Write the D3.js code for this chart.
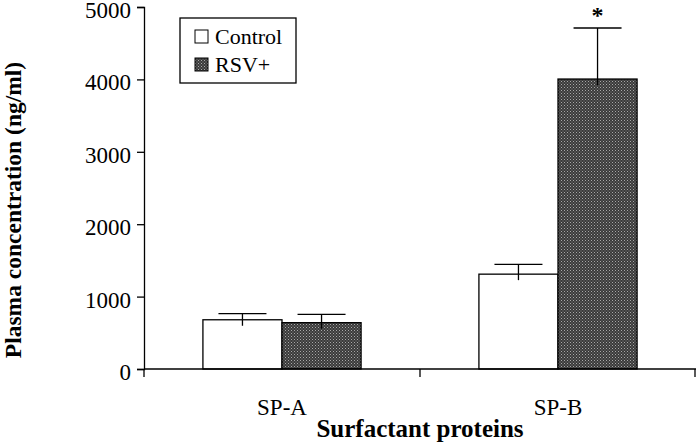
<!DOCTYPE html>
<html>
<head>
<meta charset="utf-8">
<script src="https://cdn.jsdelivr.net/npm/d3@7"></script>
<style>
body{margin:0;background:#fff;}
svg{display:block;}
text{font-family:"Liberation Serif","Times New Roman",serif;fill:#000;}
</style>
</head>
<body>
<svg id="chart" width="697" height="446"></svg>
<script>
const categories = ["SP-A", "SP-B"];
const seriesNames = ["Control", "RSV+"];
const controlValues = [680, 1310];
const controlErrors = [85, 135];
const rsvValues = [640, 4005];
const rsvErrors = [115, 705];
const yTicks = [0, 1000, 2000, 3000, 4000, 5000];
const significant = [false, true];

const svg = d3.select("#chart");
const x0 = 144, x1 = 696, yBottom = 369, yTop = 7;

const defs = svg.append("defs");
const pat = defs.append("pattern").attr("id","checker").attr("patternUnits","userSpaceOnUse")
  .attr("width",3).attr("height",3);
pat.append("rect").attr("width",3).attr("height",3).attr("fill","#3a3a3a");
pat.append("rect").attr("x",0).attr("y",0).attr("width",1).attr("height",1).attr("fill","#a8a8a8");
pat.append("rect").attr("x",1.5).attr("y",1.5).attr("width",1).attr("height",1).attr("fill","#8a8a8a");

const y = d3.scaleLinear().domain([0,5000]).range([yBottom, yTop]);
const x = d3.scaleBand().domain(categories).range([x0, x1]).padding(0);
const xi = d3.scaleBand().domain(seriesNames).range([0, x.bandwidth()]).paddingOuter(0.745).paddingInner(0);

const data = categories.map((c,i)=>({cat:c, vals:[
  {s:"Control", v:controlValues[i], e:controlErrors[i]},
  {s:"RSV+", v:rsvValues[i], e:rsvErrors[i]}]}));

// y axis
const yAxis = d3.axisLeft(y).tickValues(yTicks).tickSize(7).tickPadding(6).tickFormat(d3.format("d"));
const gy = svg.append("g").attr("transform",`translate(${x0},0)`).call(yAxis);
gy.select(".domain").attr("stroke","#000").attr("stroke-width",1.3);
gy.selectAll(".tick line").attr("stroke","#000").attr("stroke-width",1.3);
gy.selectAll(".tick text").style("font-family",'"Liberation Serif",serif').style("font-size","23px")
  .attr("fill","#000").attr("dy","0.46em");

// error bars (drawn first so bar fill covers the lower whisker)
const capW = 48, stub = 6;
const groups = svg.append("g").selectAll("g").data(data).join("g")
  .attr("transform", d=>`translate(${x(d.cat)},0)`);
groups.selectAll("g.err").data(d=>d.vals).join("g").attr("class","err").each(function(d){
  const g = d3.select(this);
  const cx = xi(d.s) + xi.bandwidth()/2;
  g.append("line").attr("x1",cx).attr("x2",cx).attr("y1",y(d.v+d.e)).attr("y2",y(d.v))
    .attr("stroke","#000").attr("stroke-width",1.3);
  g.append("line").attr("x1",cx-capW/2).attr("x2",cx+capW/2).attr("y1",y(d.v+d.e)).attr("y2",y(d.v+d.e))
    .attr("stroke","#000").attr("stroke-width",1.3);
});
// bars
groups.selectAll("rect").data(d=>d.vals).join("rect")
  .attr("x", d=>xi(d.s)).attr("width", xi.bandwidth())
  .attr("y", d=>y(d.v)).attr("height", d=>y(0)-y(d.v))
  .attr("fill", d=>d.s==="Control" ? "#fff" : "url(#checker)")
  .attr("stroke","#000").attr("stroke-width",1.3);
// short lower whisker stub inside bars
groups.selectAll("line.stub").data(d=>d.vals).join("line").attr("class","stub")
  .attr("x1",d=>xi(d.s)+xi.bandwidth()/2).attr("x2",d=>xi(d.s)+xi.bandwidth()/2)
  .attr("y1",d=>y(d.v)).attr("y2",d=>Math.min(y(d.v)+stub, y(d.v-d.e)))
  .attr("stroke","#000").attr("stroke-width",1.3);

// significance asterisk
groups.each(function(d,i){
  if(!significant[i]) return;
  const r = d.vals[1];
  const cx = xi(r.s) + xi.bandwidth()/2;
  d3.select(this).append("text").attr("x",cx).attr("y",y(r.v+r.e)-5)
    .attr("text-anchor","middle").style("font-size","24px").style("font-weight","bold").text("*");
});

// x axis
svg.append("line").attr("x1",x0).attr("x2",x1).attr("y1",yBottom).attr("y2",yBottom)
  .attr("stroke","#000").attr("stroke-width",1.3);
const boundaries = categories.map(c=>x(c)).concat([x(categories[categories.length-1])+x.bandwidth()]);
svg.append("g").selectAll("line").data(boundaries).join("line")
  .attr("x1",d=>Math.min(d,x1-1)).attr("x2",d=>Math.min(d,x1-1)).attr("y1",yBottom).attr("y2",yBottom+8)
  .attr("stroke","#000").attr("stroke-width",1.3);
svg.append("g").selectAll("text").data(categories).join("text")
  .attr("x",d=>x(d)+x.bandwidth()/2).attr("y",415).attr("text-anchor","middle")
  .style("font-size","23px").text(d=>d);

// axis titles
svg.append("text").attr("x",420).attr("y",437).attr("text-anchor","middle")
  .style("font-size","25px").style("font-weight","bold").text("Surfactant proteins");
svg.append("text").attr("transform","translate(21,210) rotate(-90)").attr("text-anchor","middle")
  .style("font-size","23.5px").style("font-weight","bold").text("Plasma concentration (ng/ml)");

// legend
const lg = svg.append("g");
lg.append("rect").attr("x",180).attr("y",18).attr("width",116).attr("height",65)
  .attr("fill","#fff").attr("stroke","#000").attr("stroke-width",1.3);
const legendItems = seriesNames.map((s,i)=>({s, fill: i===0 ? "#fff" : "url(#checker)"}));
lg.selectAll("rect.sw").data(legendItems).join("rect").attr("class","sw")
  .attr("x",195).attr("y",(d,i)=>30+i*28).attr("width",13).attr("height",13)
  .attr("fill",d=>d.fill).attr("stroke","#000").attr("stroke-width",1);
lg.selectAll("text").data(legendItems).join("text")
  .attr("x",215).attr("y",(d,i)=>44+i*28).style("font-size","22px").text(d=>d.s);
</script>
</body>
</html>
